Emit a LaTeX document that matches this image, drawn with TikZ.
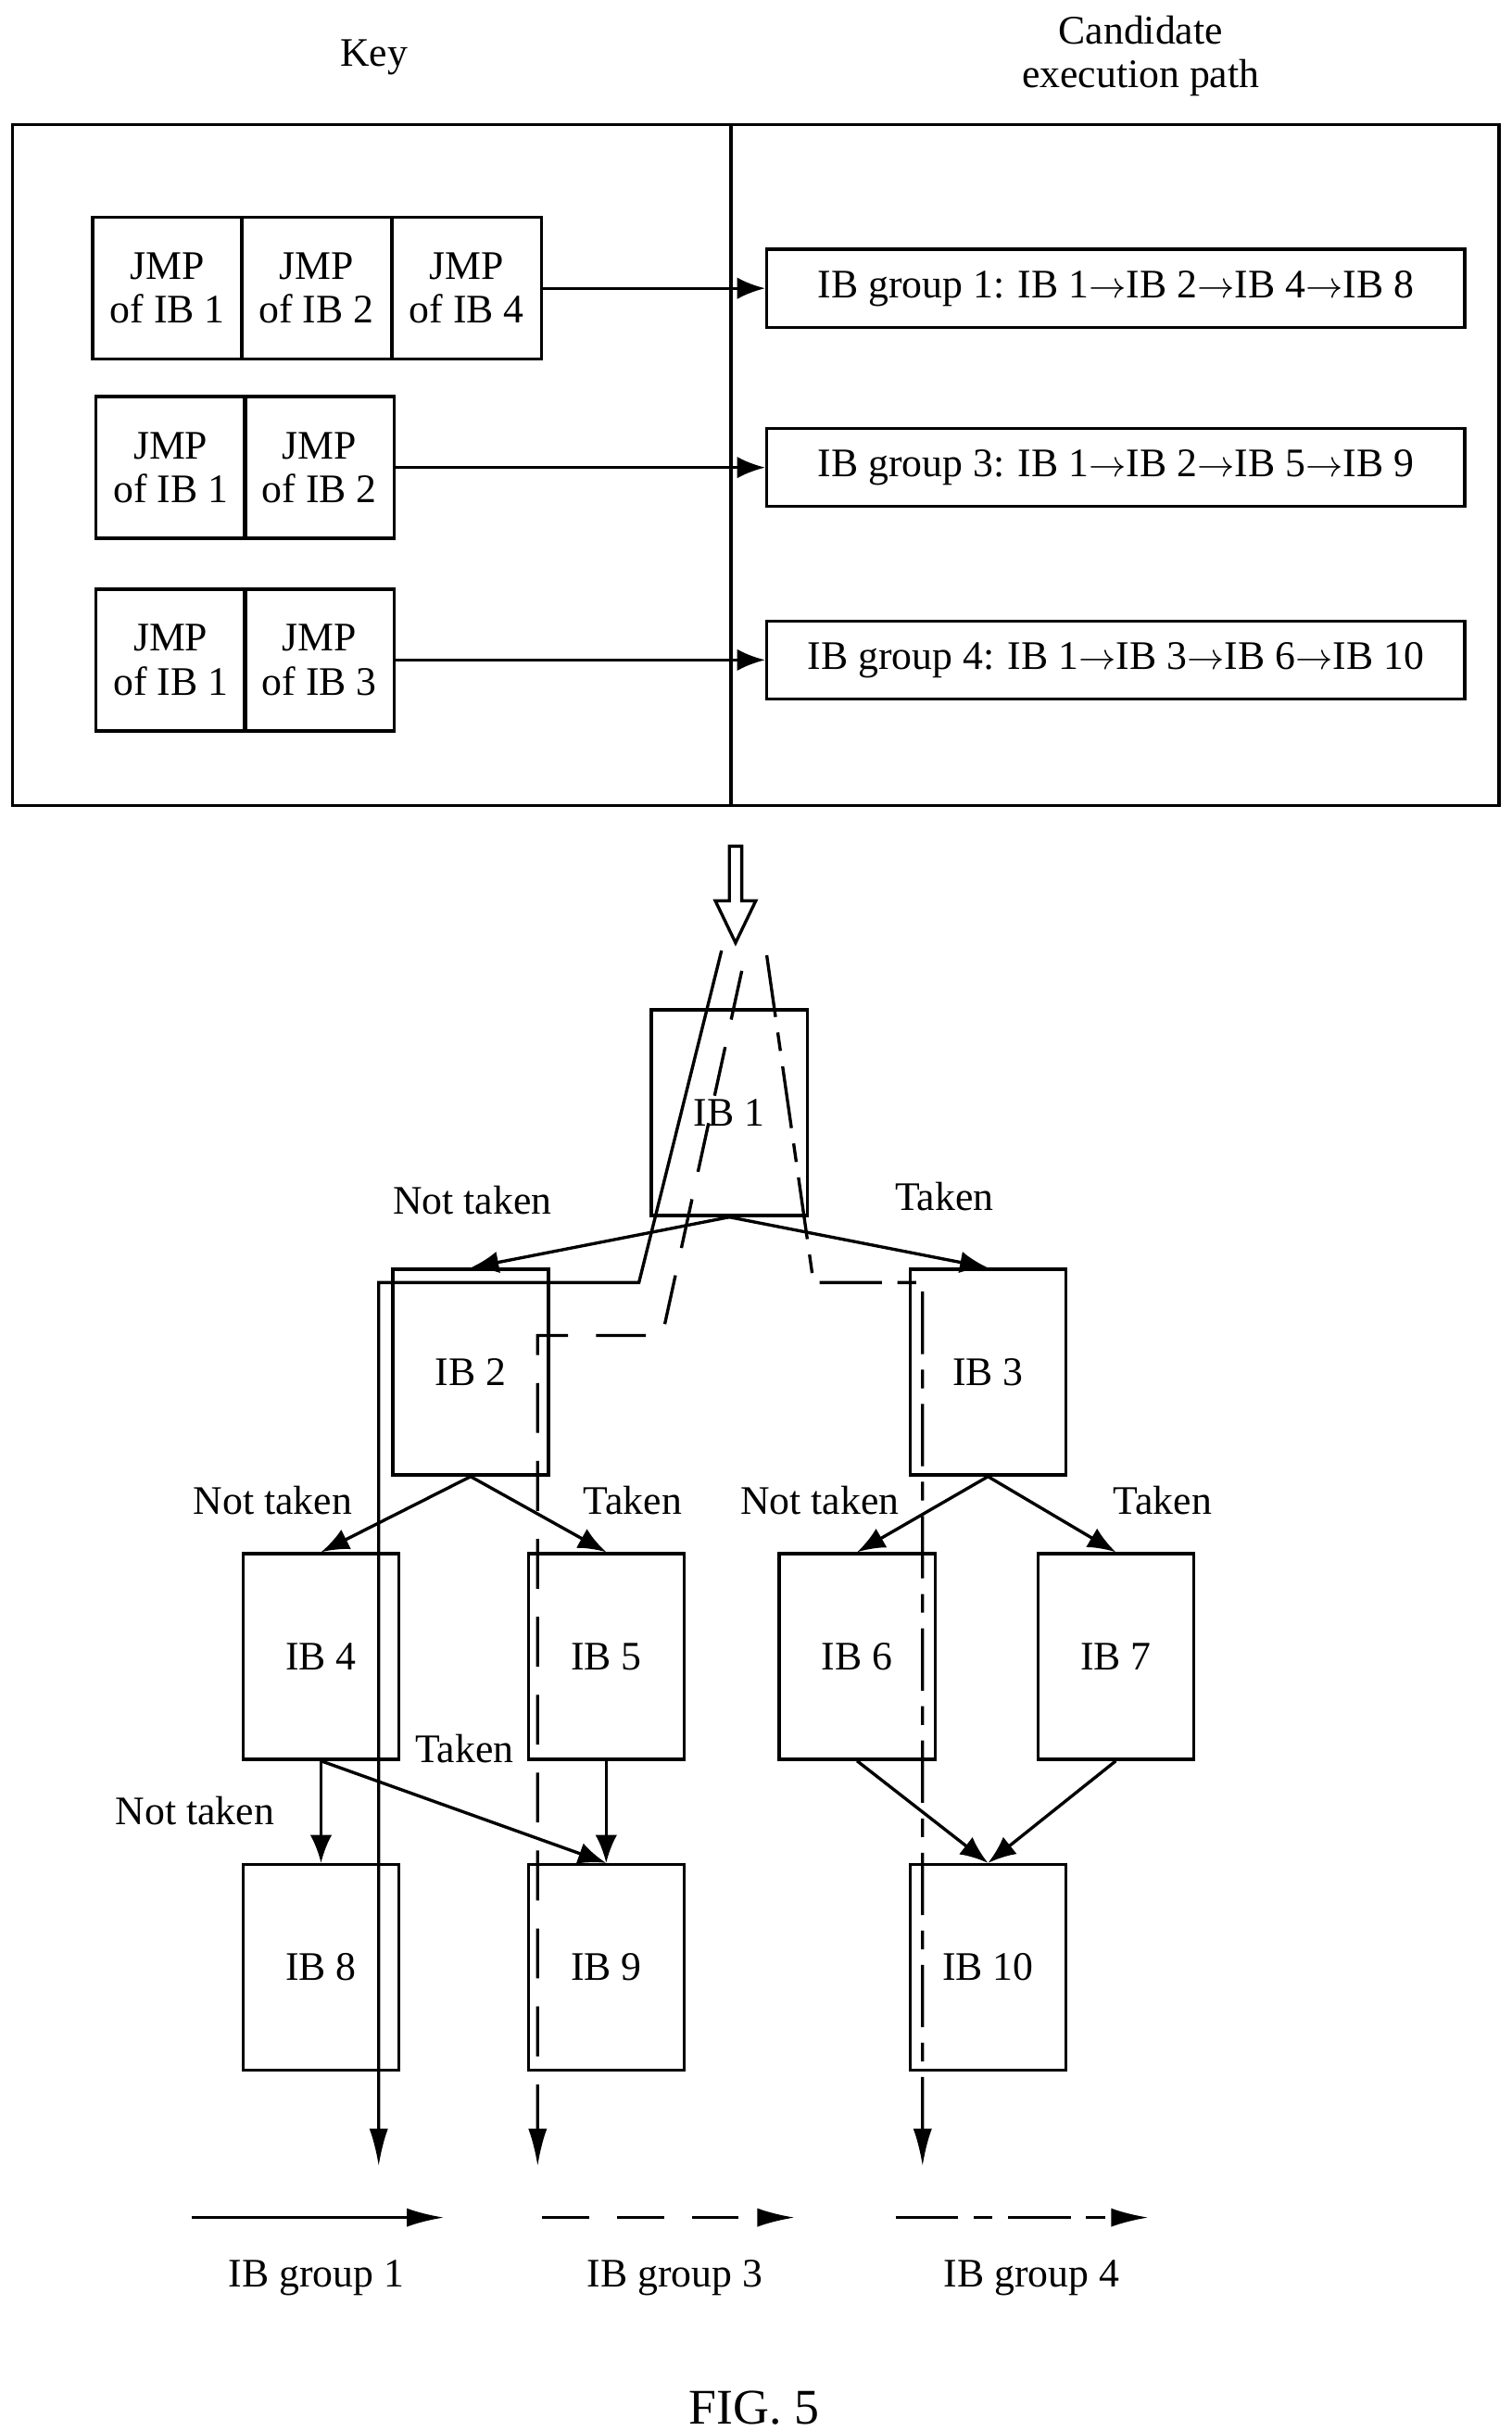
\documentclass[tikz,border=0pt]{standalone}
\usepackage{fontspec}
\setmainfont{Liberation Serif}
\usetikzlibrary{arrows.meta}
\tikzset{
  cell/.style={draw, line width=1pt, minimum width=48pt, minimum height=45.5pt, inner sep=0pt, align=center},
  grp/.style={draw, line width=1pt, minimum width=224pt, minimum height=25pt, inner sep=0pt},
  ib/.style={draw, line width=1pt, minimum width=50pt, minimum height=66pt, inner sep=0pt},
  lnk/.style={line width=1pt, -{Latex[length=9pt,width=7pt]}},
  lbl/.style={inner sep=0pt},
  pone/.style={line width=1pt, -{Latex[length=12pt,width=6pt]}},
  pthree/.style={pone, dash pattern=on 16pt off 9pt},
  pfour/.style={pone, dash pattern=on 20pt off 5pt on 6pt off 5pt},
}
\begin{document}
\begin{tikzpicture}[x=0.5pt,y=0.5pt,yscale=-1,font=\fontsize{13}{14}\selectfont]
\useasboundingbox (0,0) rectangle (970,1560);

% headers and frame
\node[lbl] (hkey) at (240,37) {Key};
\node[lbl, align=center] (hpath) at (732,36) {Candidate\\execution path};
\draw[line width=1pt] (8,80) rectangle (962,517);
\draw[line width=1pt] (469,80) -- (469,517);

% keys
\node[cell] (k11) at (107.5,185) {JMP\\of IB 1};
\node[cell] (k12) at (203,185) {JMP\\of IB 2};
\node[cell] (k13) at (299.5,185) {JMP\\of IB 4};
\node[cell] (k21) at (109.5,300) {JMP\\of IB 1};
\node[cell] (k22) at (205,300) {JMP\\of IB 2};
\node[cell] (k31) at (109.5,423.5) {JMP\\of IB 1};
\node[cell] (k32) at (205,423.5) {JMP\\of IB 3};

% candidate paths
\node[grp] (g1) at (716,185) {IB group 1: IB 1${\rightarrow}$IB 2${\rightarrow}$IB 4${\rightarrow}$IB 8};
\node[grp] (g3) at (716,300) {IB group 3: IB 1${\rightarrow}$IB 2${\rightarrow}$IB 5${\rightarrow}$IB 9};
\node[grp] (g4) at (716,423.5) {IB group 4: IB 1${\rightarrow}$IB 3${\rightarrow}$IB 6${\rightarrow}$IB 10};
\draw[lnk] (k13.east) -- (g1.west);
\draw[lnk] (k22.east) -- (g3.west);
\draw[lnk] (k32.east) -- (g4.west);

% entry arrow
\draw[line width=1pt, line join=miter] (468,543) -- (476,543) -- (476,578) -- (485,578) -- (472,605) -- (459,578) -- (468,578) -- cycle;

% blocks
\node[ib] (ib1) at (468,714) {IB 1};
\node[ib] (ib2) at (302,880.5) {IB 2};
\node[ib] (ib3) at (634,880.5) {IB 3};
\node[ib] (ib4) at (206,1063) {IB 4};
\node[ib] (ib5) at (389,1063) {IB 5};
\node[ib] (ib6) at (550,1063) {IB 6};
\node[ib] (ib7) at (716,1063) {IB 7};
\node[ib] (ib8) at (206,1262.5) {IB 8};
\node[ib] (ib9) at (389,1262.5) {IB 9};
\node[ib] (ib10) at (634,1262.5) {IB 10};

\draw[lnk] (ib1.south) -- (ib2.north);
\draw[lnk] (ib1.south) -- (ib3.north);
\draw[lnk] (ib2.south) -- (ib4.north);
\draw[lnk] (ib2.south) -- (ib5.north);
\draw[lnk] (ib3.south) -- (ib6.north);
\draw[lnk] (ib3.south) -- (ib7.north);
\draw[lnk] (ib4.south) -- (ib8.north);
\draw[lnk] (ib4.south) -- (ib9.north);
\draw[lnk] (ib5.south) -- (ib9.north);
\draw[lnk] (ib6.south) -- (ib10.north);
\draw[lnk] (ib7.south) -- (ib10.north);

\node[lbl] (l1) at (303,770) {Not taken};
\node[lbl] (l2) at (606,768) {Taken};
\node[lbl] (l3) at (175,963) {Not taken};
\node[lbl] (l4) at (406,963) {Taken};
\node[lbl] (l5) at (526,963) {Not taken};
\node[lbl] (l6) at (746,963) {Taken};
\node[lbl] (l7) at (298,1122) {Taken};
\node[lbl] (l8) at (125,1162) {Not taken};

% execution paths
\coordinate (a0) at (463,610);
\coordinate (a1) at (410,823);
\coordinate (a2) at (243,823);
\coordinate (a3) at (243,1390);
\coordinate (b0) at (476,623);
\coordinate (b1) at (425,857);
\coordinate (b2) at (345,857);
\coordinate (b3) at (345,1390);
\coordinate (c0) at (492,613);
\coordinate (c1) at (522,823);
\coordinate (c2) at (592,823);
\coordinate (c3) at (592,1390);
\draw[pone] (a0) -- (a1) -- (a2) -- (a3);
\draw[pthree] (b0) -- (b1) -- (b2) -- (b3);
\draw[pfour] (c0) -- (c1) -- (c2) -- (c3);

% legend
\coordinate (s1) at (123,1423);
\coordinate (e1) at (285,1423);
\coordinate (s3) at (348,1423);
\coordinate (e3) at (510,1423);
\coordinate (s4) at (575,1423);
\coordinate (e4) at (737,1423);
\draw[pone] (s1) -- (e1);
\draw[pthree, dash pattern=on 15pt off 9pt] (s3) -- (e3);
\draw[pfour] (s4) -- (e4);
\node[lbl] (t1) at (203,1462) {IB group 1};
\node[lbl] (t3) at (433,1462) {IB group 3};
\node[lbl] (t4) at (662,1462) {IB group 4};

\node[lbl, font=\fontsize{16}{18}\selectfont] (fig) at (484,1545) {FIG. 5};
\end{tikzpicture}
\end{document}
